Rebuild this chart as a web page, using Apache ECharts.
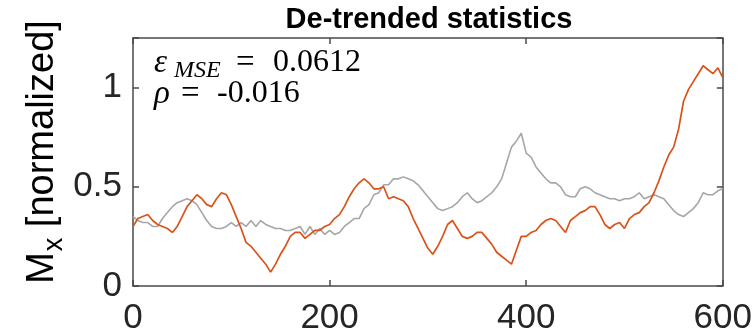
<!DOCTYPE html>
<html>
<head>
<meta charset="utf-8">
<script src="https://cdn.jsdelivr.net/npm/echarts@6/dist/echarts.min.js"></script>
<style>
html,body{margin:0;padding:0;background:#fff;}
#chart{width:755px;height:336px;}
</style>
</head>
<body>
<div id="chart"></div>
<script>
const titleText = 'De-trended statistics';
const xTickValues = [0, 200, 400, 600];
const yTickValues = [0, 0.5, 1];
const xValues = [0,5,10,15,20,25,30,35,40,45,50,55,60,65,70,75,80,85,90,95,
  100,105,110,115,120,125,130,135,140,145,150,155,160,165,170,175,180,185,190,195,
  200,205,210,215,220,225,230,235,240,245,250,255,260,265,270,275,280,285,290,295,
  300,305,310,315,320,325,330,335,340,345,350,355,360,365,370,375,380,385,390,395,
  400,405,410,415,420,425,430,435,440,445,450,455,460,465,470,475,480,485,490,495,
  500,505,510,515,520,525,530,535,540,545,550,555,560,565,570,575,580,585,590,595,600];
const orangeValues = [0.30,0.34,0.35,0.36,0.33,0.31,0.30,0.29,0.27,0.30,
  0.35,0.40,0.43,0.46,0.44,0.41,0.40,0.44,0.47,0.46,
  0.41,0.35,0.29,0.22,0.20,0.17,0.14,0.11,0.07,0.11,
  0.16,0.20,0.25,0.27,0.27,0.24,0.26,0.28,0.28,0.30,
  0.31,0.34,0.36,0.40,0.45,0.49,0.52,0.54,0.52,0.49,
  0.49,0.50,0.44,0.45,0.44,0.43,0.40,0.34,0.29,0.24,
  0.19,0.16,0.20,0.25,0.31,0.33,0.29,0.25,0.24,0.25,
  0.27,0.27,0.24,0.21,0.17,0.15,0.13,0.11,0.18,0.25,
  0.25,0.27,0.28,0.31,0.33,0.34,0.33,0.30,0.27,0.33,
  0.35,0.37,0.38,0.40,0.40,0.36,0.31,0.29,0.31,0.32,
  0.29,0.34,0.36,0.37,0.40,0.42,0.47,0.53,0.60,0.66,
  0.70,0.79,0.93,0.99,1.03,1.07,1.11,1.09,1.07,1.10,1.05];
const grayValues = [0.35,0.33,0.32,0.32,0.30,0.30,0.34,0.37,0.40,0.42,
  0.43,0.44,0.43,0.41,0.37,0.33,0.30,0.29,0.29,0.30,
  0.32,0.30,0.32,0.30,0.33,0.30,0.33,0.31,0.30,0.29,
  0.29,0.28,0.28,0.29,0.30,0.26,0.30,0.26,0.29,0.26,
  0.28,0.26,0.27,0.30,0.32,0.34,0.34,0.39,0.41,0.46,
  0.47,0.51,0.51,0.54,0.54,0.55,0.54,0.53,0.51,0.48,
  0.45,0.42,0.39,0.38,0.39,0.40,0.42,0.45,0.47,0.44,
  0.42,0.43,0.45,0.47,0.50,0.54,0.62,0.70,0.73,0.77,
  0.67,0.65,0.60,0.57,0.54,0.52,0.52,0.50,0.46,0.45,
  0.45,0.49,0.50,0.49,0.47,0.46,0.45,0.44,0.44,0.43,
  0.44,0.44,0.45,0.47,0.44,0.45,0.46,0.45,0.44,0.41,
  0.38,0.36,0.35,0.37,0.39,0.42,0.47,0.46,0.46,0.48,0.49];

const xMin = 0, xMax = 600, xStep = 200;
const yMin = 0, yMax = 1.25, yStep = 0.5;

const chart = echarts.init(document.getElementById('chart'), null, {renderer: 'canvas'});
const frameColor = '#4a4a4a';
const labelColor = '#262626';
const sans = '"Liberation Sans", Arial, Helvetica, sans-serif';
const serif = '"Liberation Serif", "Times New Roman", serif';

function pairs(vals) { return xValues.map((x, i) => [x, vals[i]]); }

const axisCommon = {
  axisLine: {show: true, onZero: false, lineStyle: {color: frameColor, width: 1.5}},
  axisTick: {show: true, inside: true, length: 6, lineStyle: {color: frameColor, width: 1.5}},
  splitLine: {show: false}
};

function txt(str, left, top, size, italic) {
  return {type: 'text', left: left, top: top, z: 10,
    style: {text: str, fontFamily: serif, fontSize: size, fontStyle: italic ? 'italic' : 'normal', fill: '#000'}};
}

chart.setOption({
  animation: false,
  backgroundColor: '#ffffff',
  grid: {left: 133, top: 38, width: 591, height: 249, containLabel: false},
  xAxis: [
    Object.assign({type: 'value', min: xMin, max: xMax, interval: xStep, position: 'bottom',
      axisLabel: {show: true, margin: 15, fontFamily: sans, fontSize: 35, color: labelColor,
        formatter: v => xTickValues.includes(v) ? String(v) : ''}}, axisCommon),
    Object.assign({type: 'value', min: xMin, max: xMax, interval: xStep, position: 'top',
      axisLabel: {show: false}}, axisCommon)
  ],
  yAxis: [
    Object.assign({type: 'value', min: yMin, max: yMax, interval: yStep, position: 'left',
      axisLabel: {show: true, margin: 11, fontFamily: sans, fontSize: 35, color: labelColor,
        formatter: v => yTickValues.includes(v) ? String(v) : ''}}, axisCommon),
    Object.assign({type: 'value', min: yMin, max: yMax, interval: yStep, position: 'right',
      axisLabel: {show: false}}, axisCommon)
  ],
  series: [
    {name: 'gray', type: 'line', xAxisIndex: 0, yAxisIndex: 0, data: pairs(grayValues),
      showSymbol: false, symbol: 'none', lineStyle: {color: '#a6a6a6', width: 1.6}, z: 2},
    {name: 'orange', type: 'line', xAxisIndex: 0, yAxisIndex: 0, data: pairs(orangeValues),
      showSymbol: false, symbol: 'none', lineStyle: {color: '#d95319', width: 1.7}, z: 3}
  ],
  graphic: [
    {type: 'text', x: 429, y: 5, z: 10,
      style: {text: titleText, align: 'center', verticalAlign: 'top',
        fontFamily: sans, fontSize: 29, fontWeight: 'bold', fill: '#000'}},
    txt('ε', 154, 47, 33, true),
    txt('MSE', 174, 59, 24, true),
    txt('=', 236, 47, 33, false),
    txt('0.0612', 273, 47, 32, false),
    txt('ρ', 154, 78, 33, true),
    txt('=', 181, 78, 33, false),
    txt('-0.016', 217, 78, 32, false),
    {type: 'text', x: 68, y: 152, rotation: Math.PI / 2, z: 10,
      style: {text: '{m|M}{s|x}{m| [normalized]}', align: 'center', verticalAlign: 'bottom',
        rich: {
          m: {fontFamily: sans, fontSize: 38, color: labelColor, verticalAlign: 'top'},
          s: {fontFamily: sans, fontSize: 27, color: labelColor, verticalAlign: 'top', padding: [17, 0, 0, 1]}
        }}}
  ]
});
</script>
</body>
</html>
